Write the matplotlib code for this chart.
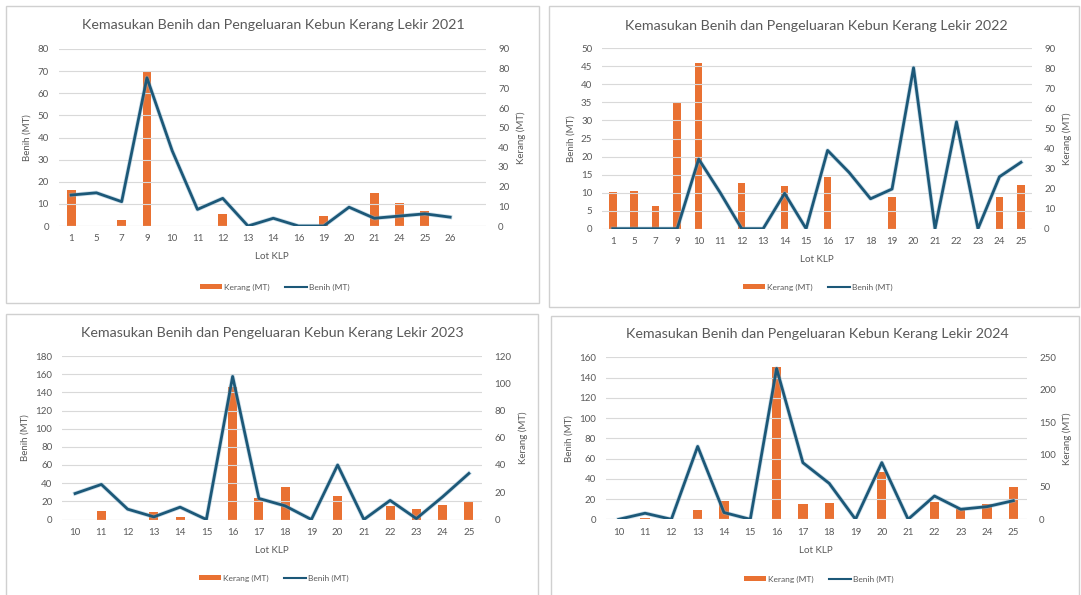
import matplotlib
matplotlib.use("Agg")
import matplotlib.pyplot as plt
import matplotlib.patheffects as pe
from matplotlib.patches import Patch, Rectangle
from matplotlib.lines import Line2D
import numpy as np

plt.rcParams["font.family"] = ["Lato", "DejaVu Sans"]

# Lot KLP per year, Kerang output (bars) and Benih input (line), in MT
lots_2021 = ["1", "5", "7", "9", "10", "11", "12", "13", "14", "16", "19", "20", "21", "24", "25", "26"]
kerang_2021 = [18.5, 0, 3, 79, 0, 0, 6, 0, 0, 0, 5, 0, 17, 11.5, 7.5, 0]
benih_2021 = [14, 15, 11, 67, 34, 7.5, 12.5, 0, 3.5, 0, 0, 8.5, 3.5, 4.5, 5.5, 4]

lots_2022 = ["1", "5", "7", "9", "10", "11", "12", "13", "14", "15",
             "16", "17", "18", "19", "20", "21", "22", "23", "24", "25"]
kerang_2022 = [18.2, 18.8, 11.2, 62.5, 82.5, 0, 22.6, 0, 21.3, 0, 26, 0, 0, 16, 0, 0, 0, 0, 16, 22]
benih_2022 = [0, 0, 0, 0, 19.3, 10, 0, 0, 9.8, 0, 21.7, 15.6, 8.3, 11, 44.6, 0, 29.6, 0, 14.4, 18.4]

lots_2023 = [str(n) for n in range(10, 26)]
kerang_2023 = [0, 6, 0, 5.4, 1.5, 0, 97, 15.6, 23.8, 0, 17.4, 0, 10.1, 7.9, 10.6, 13.5]
benih_2023 = [28.6, 38.6, 11.4, 2.9, 13.6, 0, 157.5, 23.2, 15, 0, 60, 0, 21, 1, 25, 50.7]

lots_2024 = [str(n) for n in range(10, 26)]
kerang_2024 = [0, 1.5, 0, 14.4, 28.3, 0, 235.5, 23.1, 24.7, 0, 73.5, 0, 26.7, 15.4, 23.1, 50.3]
benih_2024 = [0, 6, 0, 72, 6.7, 0, 149, 55.9, 35.5, 0, 56, 0, 23, 9.9, 12.5, 18.4]

ORANGE = "#E97132"
TEAL = "#1C5878"
GRID = "#D9D9D9"
TEXT = "#595959"

W, H = 1081, 595


def px_rect(x0, y0, x1, y1):
    """Convert a pixel box (top-left origin) to figure fractions."""
    return [x0 / W, 1 - y1 / H, (x1 - x0) / W, (y1 - y0) / H]


def draw_panel(fig, box, frame, title_xy, legend_xy, lots, kerang, benih, year,
               benih_max, benih_step, kerang_max, kerang_step, right_pad=0.5):
    fig.patches.append(Rectangle((frame[0] / W, 1 - frame[3] / H),
                                 (frame[2] - frame[0]) / W, (frame[3] - frame[1]) / H,
                                 transform=fig.transFigure, fill=False,
                                 edgecolor="#D0D0D0", linewidth=1.0))

    ax = fig.add_axes(px_rect(*box))
    ax2 = ax.twinx()
    x = np.arange(len(lots))

    # Kerang bars on the secondary axis, Benih line on the primary one
    ax2.bar(x, kerang, width=0.35, color=ORANGE, zorder=2)
    ax.set_zorder(ax2.get_zorder() + 1)
    ax.patch.set_visible(False)
    ax.plot(x, benih, color=TEAL, linewidth=2.0, zorder=3,
            path_effects=[pe.Stroke(linewidth=3.1, foreground="#8DB6CF", alpha=0.45),
                          pe.Normal()])

    ax.set_xlim(-0.5, len(lots) - 1 + right_pad)
    ax.set_ylim(0, benih_max)
    ax2.set_ylim(0, kerang_max)
    ax.set_yticks(np.arange(0, benih_max + 0.1, benih_step))
    ax2.set_yticks(np.arange(0, kerang_max + 0.1, kerang_step))
    ax.set_xticks(x)
    ax.set_xticklabels(lots)

    ax.grid(axis="y", color=GRID, linewidth=0.8, zorder=0)
    ax.set_axisbelow(True)
    for a in (ax, ax2):
        for s in a.spines.values():
            s.set_visible(False)
        a.tick_params(length=0, labelsize=7, labelcolor=TEXT)
    ax.tick_params(axis="y", pad=7)
    ax.tick_params(axis="x", pad=6)
    ax2.tick_params(axis="y", pad=9)
    ax.axhline(0, color=GRID, linewidth=0.8, zorder=1)

    ax.set_ylabel("Benih (MT)", fontsize=7, color=TEXT, labelpad=4)
    ax2.set_ylabel("Kerang (MT)", fontsize=7, color=TEXT, labelpad=5)
    ax.set_xlabel("Lot KLP", fontsize=7, color=TEXT, labelpad=6.5)

    fig.text(title_xy[0] / W, 1 - title_xy[1] / H,
             f"Kemasukan Benih dan Pengeluaran Kebun Kerang Lekir {year}",
             ha="center", va="center", fontsize=10.3, color=TEXT)

    handles = [Patch(facecolor=ORANGE, edgecolor="none"),
               Line2D([], [], color=TEAL, linewidth=1.5)]
    ax.legend(handles, ["Kerang (MT)", "Benih (MT)"], loc="center",
              bbox_to_anchor=(legend_xy[0] / W, 1 - legend_xy[1] / H),
              bbox_transform=fig.transFigure, ncol=2, frameon=False,
              fontsize=6, labelcolor=TEXT, handlelength=2.6, handleheight=0.55,
              handletextpad=0.3, columnspacing=1.8)


fig = plt.figure(figsize=(W / 100, H / 100), dpi=100)
fig.patch.set_facecolor("white")

draw_panel(fig, (58.5, 49, 485.5, 226), (6, 6, 539, 303), (273, 25), (275, 287),
           lots_2021, kerang_2021, benih_2021, 2021, 80, 10, 90, 10, right_pad=1.4)
draw_panel(fig, (602, 48.3, 1031.7, 228.7), (549, 6, 1079, 307), (816, 26), (818, 287),
           lots_2022, kerang_2022, benih_2022, 2022, 50, 5, 90, 10)
draw_panel(fig, (62, 356, 482, 519.5), (6, 314, 538, 598), (272, 333), (274, 578),
           lots_2023, kerang_2023, benih_2023, 2023, 180, 20, 120, 20)
draw_panel(fig, (605.6, 357.3, 1026.5, 519.3), (551, 316, 1079, 598), (817, 334), (819, 579),
           lots_2024, kerang_2024, benih_2024, 2024, 160, 20, 250, 50)

fig.savefig("out.png", dpi=100, facecolor="white")
